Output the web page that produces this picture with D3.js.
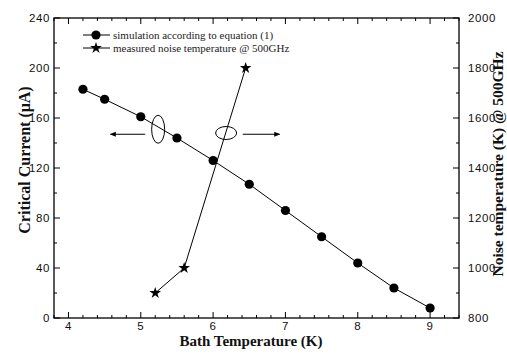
<!DOCTYPE html>
<html>
<head>
<meta charset="utf-8">
<script src="https://cdn.jsdelivr.net/npm/d3@7"></script>
<style>
  body { margin: 0; background: #fff; }
  svg { display: block; }
  .tick-label { font-family: Arial, "Liberation Sans", sans-serif; font-size: 11.5px; letter-spacing: 0.6px; fill: #111; }
  .axis-title { font-family: "Liberation Serif", "Times New Roman", serif; font-weight: bold; fill: #111; }
  .legend-text { font-family: "Liberation Serif", "Times New Roman", serif; font-size: 11px; fill: #222; }
</style>
</head>
<body>
<svg id="chart" width="507" height="354"></svg>
<script>
// simulated critical current (left axis)
const simTemps = [4.2, 4.5, 5.0, 5.5, 6.0, 6.5, 7.0, 7.5, 8.0, 8.5, 9.0];
const simCurrent = [183, 175, 161, 144, 126, 107, 86, 65, 44, 24, 8];

// measured noise temperature (right axis)
const noiseTemps = [5.2, 5.6, 6.45];
const noiseValues = [900, 1000, 1800];

const xTicks = [4, 5, 6, 7, 8, 9];
const leftTicks = [0, 40, 80, 120, 160, 200, 240];
const rightTicks = [800, 1000, 1200, 1400, 1600, 1800, 2000];

const legendLabels = ["simulation according to equation (1)", "measured noise temperature @ 500GHz"];

const margin = {top: 18, right: 48, bottom: 36, left: 54};
const width = 507, height = 354;
const svg = d3.select('#chart');

const x = d3.scaleLinear().domain([3.8, 9.4]).range([margin.left, width - margin.right]);
const yL = d3.scaleLinear().domain([0, 240]).range([height - margin.bottom, margin.top]);
const yR = d3.scaleLinear().domain([800, 2000]).range([height - margin.bottom, margin.top]);

const x0 = margin.left, x1 = width - margin.right;
const y0 = height - margin.bottom, y1 = margin.top;

// frame
svg.append('rect')
  .attr('x', x0).attr('y', y1)
  .attr('width', x1 - x0).attr('height', y0 - y1)
  .attr('fill', 'none').attr('stroke', '#000').attr('stroke-width', 1.3);

// ticks (inward), major + minor
const g = svg.append('g').attr('stroke', '#000').attr('stroke-width', 1);
const xMinor = d3.range(3.8, 9.41, 0.2).map(v => +v.toFixed(1)).filter(v => !xTicks.includes(v));
xTicks.forEach(v => {
  g.append('line').attr('x1', x(v)).attr('x2', x(v)).attr('y1', y0).attr('y2', y0 - 6);
  g.append('line').attr('x1', x(v)).attr('x2', x(v)).attr('y1', y1).attr('y2', y1 + 6);
});
xMinor.forEach(v => {
  g.append('line').attr('x1', x(v)).attr('x2', x(v)).attr('y1', y0).attr('y2', y0 - 3);
  g.append('line').attr('x1', x(v)).attr('x2', x(v)).attr('y1', y1).attr('y2', y1 + 3);
});
d3.range(0, 241, 20).forEach(v => {
  const len = v % 40 === 0 ? 6 : 3;
  g.append('line').attr('x1', x0).attr('x2', x0 + len).attr('y1', yL(v)).attr('y2', yL(v));
});
d3.range(800, 2001, 100).forEach(v => {
  const len = v % 200 === 0 ? 6 : 3;
  g.append('line').attr('x1', x1).attr('x2', x1 - len).attr('y1', yR(v)).attr('y2', yR(v));
});

// tick labels
svg.selectAll('.xl').data(xTicks).join('text')
  .attr('class', 'tick-label')
  .attr('x', d => x(d)).attr('y', y0 + 12)
  .attr('text-anchor', 'middle').text(d => d);
svg.selectAll('.yl').data(leftTicks).join('text')
  .attr('class', 'tick-label')
  .attr('x', x0 - 4).attr('y', d => yL(d) + 4)
  .attr('text-anchor', 'end').text(d => d);
svg.selectAll('.yr').data(rightTicks).join('text')
  .attr('class', 'tick-label')
  .attr('x', x1 + 9).attr('y', d => yR(d) + 4)
  .attr('text-anchor', 'start').text(d => d);

// axis titles
svg.append('text').attr('class', 'axis-title')
  .attr('x', 251).attr('y', 346).attr('text-anchor', 'middle')
  .style('font-size', '15px').text('Bath Temperature (K)');
svg.append('text').attr('class', 'axis-title')
  .attr('transform', 'translate(30,160) rotate(-90)')
  .attr('text-anchor', 'middle').style('font-size', '16px')
  .text('Critical Current (μA)');
svg.append('text').attr('class', 'axis-title')
  .attr('transform', 'translate(503,164) rotate(-90)')
  .attr('text-anchor', 'middle').style('font-size', '15.5px')
  .text('Noise temperature (K) @ 500GHz');

// simulation series
const simData = simTemps.map((t, i) => ({t, v: simCurrent[i]}));
svg.append('path').datum(simData)
  .attr('fill', 'none').attr('stroke', '#000').attr('stroke-width', 1)
  .attr('d', d3.line().x(d => x(d.t)).y(d => yL(d.v)));
svg.selectAll('.dot').data(simData).join('circle')
  .attr('cx', d => x(d.t)).attr('cy', d => yL(d.v)).attr('r', 4.6).attr('fill', '#000');

// noise series
const noiseData = noiseTemps.map((t, i) => ({t, v: noiseValues[i]}));
svg.append('path').datum(noiseData)
  .attr('fill', 'none').attr('stroke', '#000').attr('stroke-width', 1)
  .attr('d', d3.line().x(d => x(d.t)).y(d => yR(d.v)));
const star = d3.symbol().type(d3.symbolStar).size(42);
svg.selectAll('.star').data(noiseData).join('path')
  .attr('transform', d => `translate(${x(d.t)},${yR(d.v)})`)
  .attr('d', star).attr('fill', '#000');

// annotations: ellipses with arrows pointing to their axes
const defs = svg.append('defs');
defs.append('marker').attr('id', 'arrow').attr('viewBox', '0 0 10 10')
  .attr('refX', 9).attr('refY', 5).attr('markerWidth', 7).attr('markerHeight', 6)
  .attr('orient', 'auto-start-reverse')
  .append('path').attr('d', 'M0,1 L10,5 L0,9 z').attr('fill', '#000');

svg.append('ellipse').attr('cx', x(5.24)).attr('cy', yL(151)).attr('rx', 6.5).attr('ry', 14)
  .attr('fill', 'none').attr('stroke', '#000').attr('stroke-width', 1);
svg.append('ellipse').attr('cx', x(6.18)).attr('cy', yL(148)).attr('rx', 10.5).attr('ry', 6.5)
  .attr('fill', 'none').attr('stroke', '#000').attr('stroke-width', 1);
svg.append('line').attr('x1', x(5.06)).attr('x2', x(4.58)).attr('y1', yL(147)).attr('y2', yL(147))
  .attr('stroke', '#000').attr('stroke-width', 1).attr('marker-end', 'url(#arrow)');
svg.append('line').attr('x1', x(6.41)).attr('x2', x(6.92)).attr('y1', yL(147)).attr('y2', yL(147))
  .attr('stroke', '#000').attr('stroke-width', 1).attr('marker-end', 'url(#arrow)');

// legend
const legend = svg.append('g');
[35, 48].forEach((ly, i) => {
  legend.append('line').attr('x1', 83).attr('x2', 110).attr('y1', ly).attr('y2', ly)
    .attr('stroke', '#000').attr('stroke-width', 1);
  if (i === 0) {
    legend.append('circle').attr('cx', 96).attr('cy', ly).attr('r', 4.6).attr('fill', '#000');
  } else {
    legend.append('path').attr('transform', `translate(96,${ly})`).attr('d', star).attr('fill', '#000');
  }
  legend.append('text').attr('class', 'legend-text')
    .attr('x', 113).attr('y', ly + 4).text(legendLabels[i]);
});
</script>
</body>
</html>
